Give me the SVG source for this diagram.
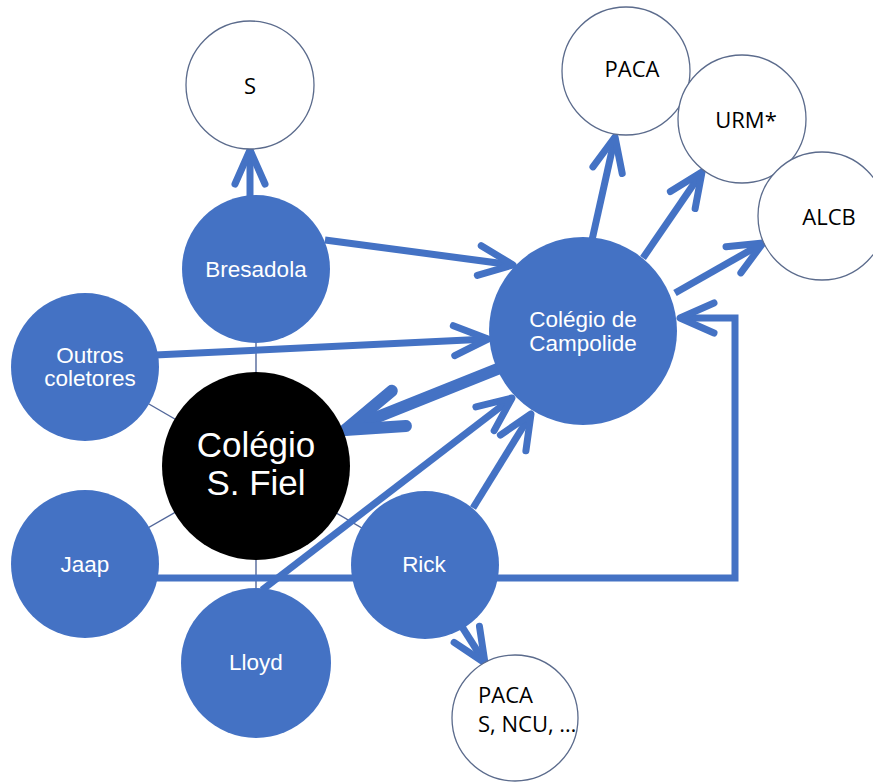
<svg xmlns="http://www.w3.org/2000/svg" width="873" height="782" viewBox="0 0 873 782">
<style>
.spoke{stroke:#52679a;stroke-width:1.4;fill:none}
.arr{stroke:#4472C4;stroke-width:7;fill:none;marker-end:url(#ah)}
.thick{stroke:#4472C4;stroke-width:12;fill:none;marker-end:url(#ahBig)}
.blue{fill:#4472C4}
.white{fill:#ffffff;stroke:#5b6b8c;stroke-width:1.3}
.black{fill:#000000}
.wl{font-family:"Liberation Sans",Arial,sans-serif;font-size:22.5px;fill:#ffffff;text-anchor:middle}
.bl{font-family:"Open Sans","Noto Sans",sans-serif;font-size:22px;fill:#000000;text-anchor:middle}
.big{font-family:"Liberation Sans",Arial,sans-serif;font-size:35px;fill:#ffffff;text-anchor:middle}
</style>
<defs>
<marker id="ah" markerUnits="userSpaceOnUse" orient="auto" refX="0" refY="0" markerWidth="10" markerHeight="10" overflow="visible">
<path d="M-34,-15 L0,0 L-34,15" fill="none" stroke="#4472C4" stroke-width="7" stroke-linecap="round" stroke-linejoin="round"/>
</marker>
<marker id="ahBig" markerUnits="userSpaceOnUse" orient="auto" refX="0" refY="0" markerWidth="10" markerHeight="10" overflow="visible">
<path d="M-58,-19 L0,0 L-58,19" fill="none" stroke="#4472C4" stroke-width="12" stroke-linecap="round" stroke-linejoin="round"/>
</marker>
</defs>
<g id="connectors">
<line class="spoke" x1="256" y1="466" x2="256" y2="269"/>
<line class="spoke" x1="256" y1="466" x2="85" y2="367"/>
<line class="spoke" x1="256" y1="466" x2="85" y2="564"/>
<line class="spoke" x1="256" y1="466" x2="256" y2="663"/>
<line class="spoke" x1="256" y1="466" x2="425" y2="565"/>
<path class="arr" d="M250,200 L250,150"/>
<path class="arr" d="M325,240 L513,265"/>
<path class="arr" d="M155,355 L488,339"/>
<path class="arr" d="M262,590 L512,398"/>
<path class="arr" d="M473,508 L531,414"/>
<path class="arr" d="M155,578 H735 V318 H680"/>
<path class="arr" d="M592,240 L615,137"/>
<path class="arr" d="M643,258 L702,172"/>
<path class="arr" d="M675,293 L763,243"/>
<path class="arr" d="M445,600 L485,663"/>
<path class="thick" d="M505,366 L345,430"/>
</g>
<g id="node-s"><circle class="white" cx="250" cy="85" r="64"/><text class="bl" x="250" y="94">S</text></g>
<g id="node-paca"><circle class="white" cx="626" cy="71" r="64"/><text class="bl" x="632" y="77">PACA</text></g>
<g id="node-urm"><circle class="white" cx="742" cy="119" r="64"/><text class="bl" x="746" y="128">URM*</text></g>
<g id="node-alcb"><circle class="white" cx="822" cy="216" r="64"/><text class="bl" x="829" y="225">ALCB</text></g>
<g id="node-campolide"><circle class="blue" cx="583" cy="331" r="94"/><text class="wl" x="583" y="327">Colégio de</text><text class="wl" x="583" y="351">Campolide</text></g>
<g id="node-bresadola"><circle class="blue" cx="256" cy="269" r="74"/><text class="wl" x="256" y="277">Bresadola</text></g>
<g id="node-outros"><circle class="blue" cx="85" cy="367" r="74"/><text class="wl" x="90" y="363">Outros</text><text class="wl" x="90" y="386">coletores</text></g>
<g id="node-jaap"><circle class="blue" cx="85" cy="564" r="74"/><text class="wl" x="85" y="572">Jaap</text></g>
<g id="node-lloyd"><circle class="blue" cx="256" cy="663" r="75"/><text class="wl" x="256" y="670">Lloyd</text></g>
<g id="node-rick"><circle class="blue" cx="425" cy="565" r="74"/><text class="wl" x="424" y="572">Rick</text></g>
<g id="node-fiel"><circle class="black" cx="256" cy="466" r="94"/><text class="big" x="256" y="457">Colégio</text><text class="big" x="256" y="495">S. Fiel</text></g>
<g id="node-paca2"><circle class="white" cx="515" cy="718" r="63"/><text class="bl" x="478" y="703" style="text-anchor:start">PACA</text><text class="bl" x="478" y="732" style="text-anchor:start">S, NCU, …</text></g>
</svg>
